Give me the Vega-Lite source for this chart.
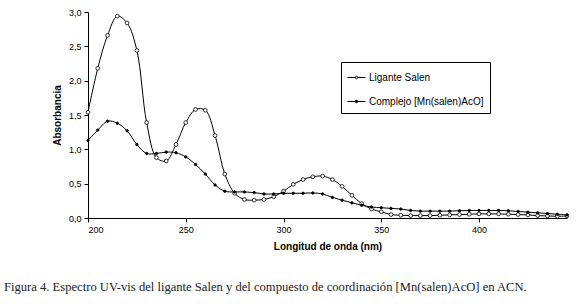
{
  "$schema": "https://vega.github.io/schema/vega-lite/v6.json",
  "width": 479,
  "height": 206,
  "autosize": {"type": "none"},
  "padding": {"left": 88, "top": 12, "right": 13, "bottom": 86},
  "background": "white",
  "config": {
    "view": {"stroke": null},
    "font": "Liberation Sans"
  },
  "title": {
    "text": "Figura 4. Espectro UV-vis del ligante Salen y del compuesto de coordinación [Mn(salen)AcO] en ACN.",
    "orient": "bottom",
    "anchor": "start",
    "frame": "group",
    "dx": -84,
    "offset": 30,
    "baseline": "top",
    "font": "Liberation Serif",
    "fontSize": 12.6,
    "fontWeight": "normal",
    "color": "#222222"
  },
  "data": {
    "values": [
      {"nm": 200, "abs": 1.54, "serie": "Ligante Salen"},
      {"nm": 205, "abs": 2.18, "serie": "Ligante Salen"},
      {"nm": 210, "abs": 2.66, "serie": "Ligante Salen"},
      {"nm": 215, "abs": 2.94, "serie": "Ligante Salen"},
      {"nm": 220, "abs": 2.84, "serie": "Ligante Salen"},
      {"nm": 225, "abs": 2.44, "serie": "Ligante Salen"},
      {"nm": 230, "abs": 1.39, "serie": "Ligante Salen"},
      {"nm": 235, "abs": 0.88, "serie": "Ligante Salen"},
      {"nm": 240, "abs": 0.83, "serie": "Ligante Salen"},
      {"nm": 245, "abs": 1.07, "serie": "Ligante Salen"},
      {"nm": 250, "abs": 1.39, "serie": "Ligante Salen"},
      {"nm": 255, "abs": 1.58, "serie": "Ligante Salen"},
      {"nm": 260, "abs": 1.57, "serie": "Ligante Salen"},
      {"nm": 265, "abs": 1.2, "serie": "Ligante Salen"},
      {"nm": 270, "abs": 0.64, "serie": "Ligante Salen"},
      {"nm": 275, "abs": 0.36, "serie": "Ligante Salen"},
      {"nm": 280, "abs": 0.27, "serie": "Ligante Salen"},
      {"nm": 285, "abs": 0.26, "serie": "Ligante Salen"},
      {"nm": 290, "abs": 0.27, "serie": "Ligante Salen"},
      {"nm": 295, "abs": 0.31, "serie": "Ligante Salen"},
      {"nm": 300, "abs": 0.39, "serie": "Ligante Salen"},
      {"nm": 305, "abs": 0.49, "serie": "Ligante Salen"},
      {"nm": 310, "abs": 0.56, "serie": "Ligante Salen"},
      {"nm": 315, "abs": 0.6, "serie": "Ligante Salen"},
      {"nm": 320, "abs": 0.61, "serie": "Ligante Salen"},
      {"nm": 325, "abs": 0.56, "serie": "Ligante Salen"},
      {"nm": 330, "abs": 0.46, "serie": "Ligante Salen"},
      {"nm": 335, "abs": 0.33, "serie": "Ligante Salen"},
      {"nm": 340, "abs": 0.21, "serie": "Ligante Salen"},
      {"nm": 345, "abs": 0.13, "serie": "Ligante Salen"},
      {"nm": 350, "abs": 0.09, "serie": "Ligante Salen"},
      {"nm": 355, "abs": 0.05, "serie": "Ligante Salen"},
      {"nm": 360, "abs": 0.04, "serie": "Ligante Salen"},
      {"nm": 365, "abs": 0.035, "serie": "Ligante Salen"},
      {"nm": 370, "abs": 0.035, "serie": "Ligante Salen"},
      {"nm": 375, "abs": 0.035, "serie": "Ligante Salen"},
      {"nm": 380, "abs": 0.04, "serie": "Ligante Salen"},
      {"nm": 385, "abs": 0.045, "serie": "Ligante Salen"},
      {"nm": 390, "abs": 0.05, "serie": "Ligante Salen"},
      {"nm": 395, "abs": 0.055, "serie": "Ligante Salen"},
      {"nm": 400, "abs": 0.06, "serie": "Ligante Salen"},
      {"nm": 405, "abs": 0.06, "serie": "Ligante Salen"},
      {"nm": 410, "abs": 0.06, "serie": "Ligante Salen"},
      {"nm": 415, "abs": 0.055, "serie": "Ligante Salen"},
      {"nm": 420, "abs": 0.05, "serie": "Ligante Salen"},
      {"nm": 425, "abs": 0.045, "serie": "Ligante Salen"},
      {"nm": 430, "abs": 0.035, "serie": "Ligante Salen"},
      {"nm": 435, "abs": 0.03, "serie": "Ligante Salen"},
      {"nm": 440, "abs": 0.025, "serie": "Ligante Salen"},
      {"nm": 445, "abs": 0.03, "serie": "Ligante Salen"},
      {"nm": 200, "abs": 1.13, "serie": "Complejo [Mn(salen)AcO]"},
      {"nm": 205, "abs": 1.28, "serie": "Complejo [Mn(salen)AcO]"},
      {"nm": 210, "abs": 1.41, "serie": "Complejo [Mn(salen)AcO]"},
      {"nm": 215, "abs": 1.38, "serie": "Complejo [Mn(salen)AcO]"},
      {"nm": 220, "abs": 1.27, "serie": "Complejo [Mn(salen)AcO]"},
      {"nm": 225, "abs": 1.07, "serie": "Complejo [Mn(salen)AcO]"},
      {"nm": 230, "abs": 0.94, "serie": "Complejo [Mn(salen)AcO]"},
      {"nm": 235, "abs": 0.94, "serie": "Complejo [Mn(salen)AcO]"},
      {"nm": 240, "abs": 0.96, "serie": "Complejo [Mn(salen)AcO]"},
      {"nm": 245, "abs": 0.95, "serie": "Complejo [Mn(salen)AcO]"},
      {"nm": 250, "abs": 0.89, "serie": "Complejo [Mn(salen)AcO]"},
      {"nm": 255, "abs": 0.78, "serie": "Complejo [Mn(salen)AcO]"},
      {"nm": 260, "abs": 0.64, "serie": "Complejo [Mn(salen)AcO]"},
      {"nm": 265, "abs": 0.48, "serie": "Complejo [Mn(salen)AcO]"},
      {"nm": 270, "abs": 0.39, "serie": "Complejo [Mn(salen)AcO]"},
      {"nm": 275, "abs": 0.38, "serie": "Complejo [Mn(salen)AcO]"},
      {"nm": 280, "abs": 0.38, "serie": "Complejo [Mn(salen)AcO]"},
      {"nm": 285, "abs": 0.37, "serie": "Complejo [Mn(salen)AcO]"},
      {"nm": 290, "abs": 0.35, "serie": "Complejo [Mn(salen)AcO]"},
      {"nm": 295, "abs": 0.35, "serie": "Complejo [Mn(salen)AcO]"},
      {"nm": 300, "abs": 0.36, "serie": "Complejo [Mn(salen)AcO]"},
      {"nm": 305, "abs": 0.36, "serie": "Complejo [Mn(salen)AcO]"},
      {"nm": 310, "abs": 0.36, "serie": "Complejo [Mn(salen)AcO]"},
      {"nm": 315, "abs": 0.365, "serie": "Complejo [Mn(salen)AcO]"},
      {"nm": 320, "abs": 0.35, "serie": "Complejo [Mn(salen)AcO]"},
      {"nm": 325, "abs": 0.3, "serie": "Complejo [Mn(salen)AcO]"},
      {"nm": 330, "abs": 0.26, "serie": "Complejo [Mn(salen)AcO]"},
      {"nm": 335, "abs": 0.22, "serie": "Complejo [Mn(salen)AcO]"},
      {"nm": 340, "abs": 0.185, "serie": "Complejo [Mn(salen)AcO]"},
      {"nm": 345, "abs": 0.16, "serie": "Complejo [Mn(salen)AcO]"},
      {"nm": 350, "abs": 0.15, "serie": "Complejo [Mn(salen)AcO]"},
      {"nm": 355, "abs": 0.14, "serie": "Complejo [Mn(salen)AcO]"},
      {"nm": 360, "abs": 0.13, "serie": "Complejo [Mn(salen)AcO]"},
      {"nm": 365, "abs": 0.11, "serie": "Complejo [Mn(salen)AcO]"},
      {"nm": 370, "abs": 0.1, "serie": "Complejo [Mn(salen)AcO]"},
      {"nm": 375, "abs": 0.1, "serie": "Complejo [Mn(salen)AcO]"},
      {"nm": 380, "abs": 0.1, "serie": "Complejo [Mn(salen)AcO]"},
      {"nm": 385, "abs": 0.1, "serie": "Complejo [Mn(salen)AcO]"},
      {"nm": 390, "abs": 0.105, "serie": "Complejo [Mn(salen)AcO]"},
      {"nm": 395, "abs": 0.11, "serie": "Complejo [Mn(salen)AcO]"},
      {"nm": 400, "abs": 0.11, "serie": "Complejo [Mn(salen)AcO]"},
      {"nm": 405, "abs": 0.11, "serie": "Complejo [Mn(salen)AcO]"},
      {"nm": 410, "abs": 0.11, "serie": "Complejo [Mn(salen)AcO]"},
      {"nm": 415, "abs": 0.105, "serie": "Complejo [Mn(salen)AcO]"},
      {"nm": 420, "abs": 0.095, "serie": "Complejo [Mn(salen)AcO]"},
      {"nm": 425, "abs": 0.085, "serie": "Complejo [Mn(salen)AcO]"},
      {"nm": 430, "abs": 0.075, "serie": "Complejo [Mn(salen)AcO]"},
      {"nm": 435, "abs": 0.065, "serie": "Complejo [Mn(salen)AcO]"},
      {"nm": 440, "abs": 0.055, "serie": "Complejo [Mn(salen)AcO]"},
      {"nm": 445, "abs": 0.045, "serie": "Complejo [Mn(salen)AcO]"}
    ]
  },
  "encoding": {
    "x": {
      "field": "nm",
      "type": "quantitative",
      "scale": {"domain": [200, 445], "nice": false, "zero": false},
      "axis": {
        "title": "Longitud de onda (nm)",
        "values": [200, 250, 300, 350, 400],
        "format": "d",
        "grid": false,
        "domainColor": "black",
        "tickColor": "black",
        "tickSize": 4,
        "labelFontSize": 9,
        "labelColor": "black",
        "labelPadding": 3,
        "titleFontSize": 10,
        "titleFontWeight": "bold",
        "titleColor": "black",
        "titlePadding": 7
      }
    },
    "y": {
      "field": "abs",
      "type": "quantitative",
      "scale": {"domain": [0, 3], "nice": false},
      "axis": {
        "title": "Absorbancia",
        "values": [0, 0.5, 1, 1.5, 2, 2.5, 3],
        "labelExpr": "replace(format(datum.value, '.1f'), '.', ',')",
        "grid": false,
        "domainColor": "black",
        "tickColor": "black",
        "tickSize": 4,
        "labelFontSize": 9,
        "labelColor": "black",
        "labelPadding": 3,
        "titleFontSize": 10,
        "titleFontWeight": "bold",
        "titleColor": "black",
        "titlePadding": 6
      }
    },
    "fill": {
      "field": "serie",
      "type": "nominal",
      "scale": {"domain": ["Ligante Salen", "Complejo [Mn(salen)AcO]"], "range": ["white", "black"]},
      "legend": {
        "title": null,
        "orient": "none",
        "legendX": 253,
        "legendY": 50,
        "strokeColor": "black",
        "fillColor": "white",
        "padding": 6,
        "cornerRadius": 0,
        "symbolType": "M-1,0H-0.14M0.14,0H1M-0.14,0A0.14,0.14 0 1,0 0.14,0A0.14,0.14 0 1,0 -0.14,0",
        "symbolSize": 324,
        "symbolStrokeColor": "black",
        "symbolStrokeWidth": 1,
        "labelFont": "Liberation Sans",
        "labelFontSize": 10,
        "labelColor": "black",
        "labelOffset": 3,
        "rowPadding": 9,
        "labelLimit": 300
      }
    }
  },
  "layer": [
    {
      "mark": {"type": "line", "interpolate": "catmull-rom", "color": "black", "strokeWidth": 1, "fill": null},
      "encoding": {"fill": null, "detail": {"field": "serie", "type": "nominal"}}
    },
    {
      "transform": [{"filter": "datum.serie === 'Ligante Salen'"}],
      "mark": {"type": "point", "filled": true, "stroke": "black", "strokeWidth": 0.8, "opacity": 1, "size": 14}
    },
    {
      "transform": [{"filter": "datum.serie !== 'Ligante Salen'"}],
      "mark": {"type": "point", "filled": true, "stroke": "black", "strokeWidth": 0.8, "opacity": 1, "size": 6}
    }
  ]
}
